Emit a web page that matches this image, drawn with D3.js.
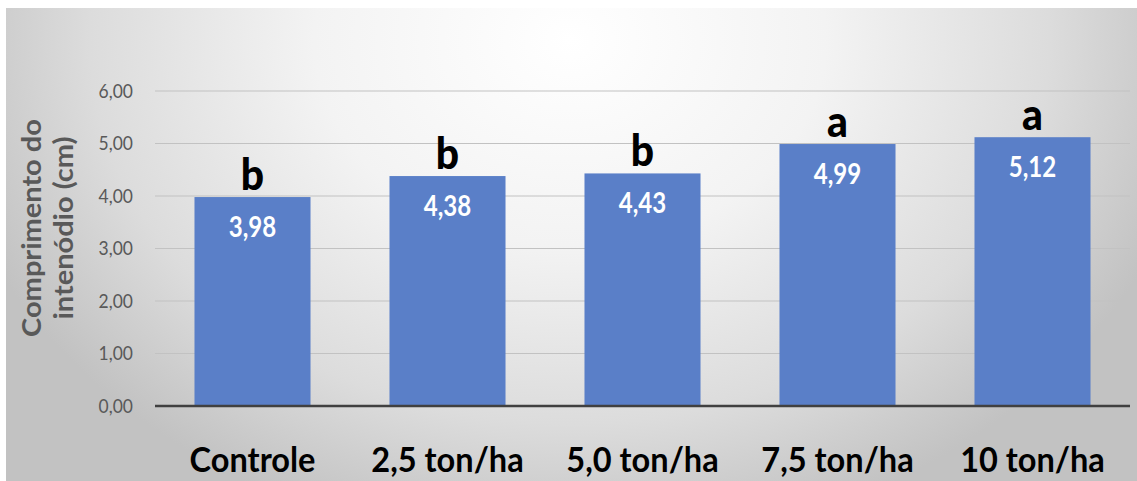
<!DOCTYPE html>
<html>
<head>
<meta charset="utf-8">
<script src="https://cdn.jsdelivr.net/npm/d3@7"></script>
<style>
  html, body { margin: 0; padding: 0; background: #ffffff; }
  svg { display: block; }
</style>
</head>
<body>
<svg id="chart" width="1137" height="481"></svg>
<script>
// Internode length by dose of amendment
const categories = ["Controle", "2,5 ton/ha", "5,0 ton/ha", "7,5 ton/ha", "10 ton/ha"];
const values = [3.98, 4.38, 4.43, 4.99, 5.12];
const groups = ["b", "b", "b", "a", "a"];
const yTicks = [0, 1, 2, 3, 4, 5, 6];
const yTitle = ["Comprimento do", "intenódio (cm)"];

const fmt = v => v.toFixed(2).replace(".", ",");

const svg = d3.select("#chart");
const FONT = "Lato, 'Open Sans', sans-serif";
const SQX = 0.86; // narrow glyphs horizontally

// background panel with soft elliptical shading
const defs = svg.append("defs");
const grad = defs.append("radialGradient")
  .attr("id", "bg")
  .attr("gradientUnits", "userSpaceOnUse")
  .attr("cx", 570).attr("cy", 40).attr("r", 640)
  .attr("fx", 570).attr("fy", 40)
  .attr("gradientTransform", "translate(570,40) scale(1,0.8) translate(-570,-40)");
grad.append("stop").attr("offset", "0").attr("stop-color", "#ffffff");
grad.append("stop").attr("offset", "0.4").attr("stop-color", "#f3f3f3");
grad.append("stop").attr("offset", "0.75").attr("stop-color", "#dcdcdc");
grad.append("stop").attr("offset", "1").attr("stop-color", "#c2c2c2");

svg.append("rect")
  .attr("x", 6).attr("y", 8)
  .attr("width", 1131).attr("height", 473)
  .attr("fill", "url(#bg)");

const x = d3.scaleBand()
  .domain(categories)
  .range([155, 1130])
  .paddingInner(0.405)
  .paddingOuter(0.2025);

const y = d3.scaleLinear().domain([0, 6]).range([406, 91]);

// horizontal gridlines
svg.append("g")
  .selectAll("line")
  .data(yTicks.filter(t => t > 0))
  .join("line")
  .attr("x1", x.range()[0]).attr("x2", x.range()[1])
  .attr("y1", d => y(d)).attr("y2", d => y(d))
  .attr("stroke", "#c2c2c2")
  .attr("stroke-width", 1.2);

// y tick labels
svg.append("g")
  .selectAll("text")
  .data(yTicks)
  .join("text")
  .attr("transform", d => `translate(133,${y(d) + 6.5}) scale(0.92,1)`)
  .attr("text-anchor", "end")
  .attr("font-family", FONT)
  .attr("font-size", 19)
  .attr("fill", "#595959")
  .text(d => fmt(d));

// y axis title
svg.append("g")
  .selectAll("text")
  .data(yTitle)
  .join("text")
  .attr("transform", (d, i) => `translate(${41 + i * 32},228) rotate(-90) scale(1,0.92)`)
  .attr("text-anchor", "middle")
  .attr("font-family", FONT)
  .attr("font-weight", "bold")
  .attr("font-size", 29)
  .attr("fill", "#595959")
  .text(d => d);

// bars
svg.append("g")
  .selectAll("rect")
  .data(values)
  .join("rect")
  .attr("x", (d, i) => x(categories[i]))
  .attr("width", x.bandwidth())
  .attr("y", d => y(d))
  .attr("height", d => y(0) - y(d))
  .attr("fill", "#5A7FC8");

// baseline axis
svg.append("line")
  .attr("x1", x.range()[0]).attr("x2", x.range()[1])
  .attr("y1", y(0)).attr("y2", y(0))
  .attr("stroke", "#404040")
  .attr("stroke-width", 2.6);

// value labels inside bars
svg.append("g")
  .selectAll("text")
  .data(values)
  .join("text")
  .attr("transform", (d, i) => `translate(${x(categories[i]) + x.bandwidth() / 2},${y(d) + 40}) scale(${SQX},1)`)
  .attr("text-anchor", "middle")
  .attr("font-family", FONT)
  .attr("font-weight", "bold")
  .attr("font-size", 28)
  .attr("fill", "#ffffff")
  .text(d => fmt(d));

// significance letters above bars
svg.append("g")
  .selectAll("text")
  .data(values)
  .join("text")
  .attr("transform", (d, i) => `translate(${x(categories[i]) + x.bandwidth() / 2},${y(d) - 7}) scale(0.95,1)`)
  .attr("text-anchor", "middle")
  .attr("font-family", FONT)
  .attr("font-weight", "900")
  .attr("font-size", 43)
  .attr("fill", "#000000")
  .text((d, i) => groups[i]);

// category labels
svg.append("g")
  .selectAll("text")
  .data(categories)
  .join("text")
  .attr("transform", d => `translate(${x(d) + x.bandwidth() / 2},472) scale(0.93,1)`)
  .attr("text-anchor", "middle")
  .attr("font-family", FONT)
  .attr("font-weight", "bold")
  .attr("font-size", 35)
  .attr("fill", "#000000")
  .text(d => d);
</script>
</body>
</html>
